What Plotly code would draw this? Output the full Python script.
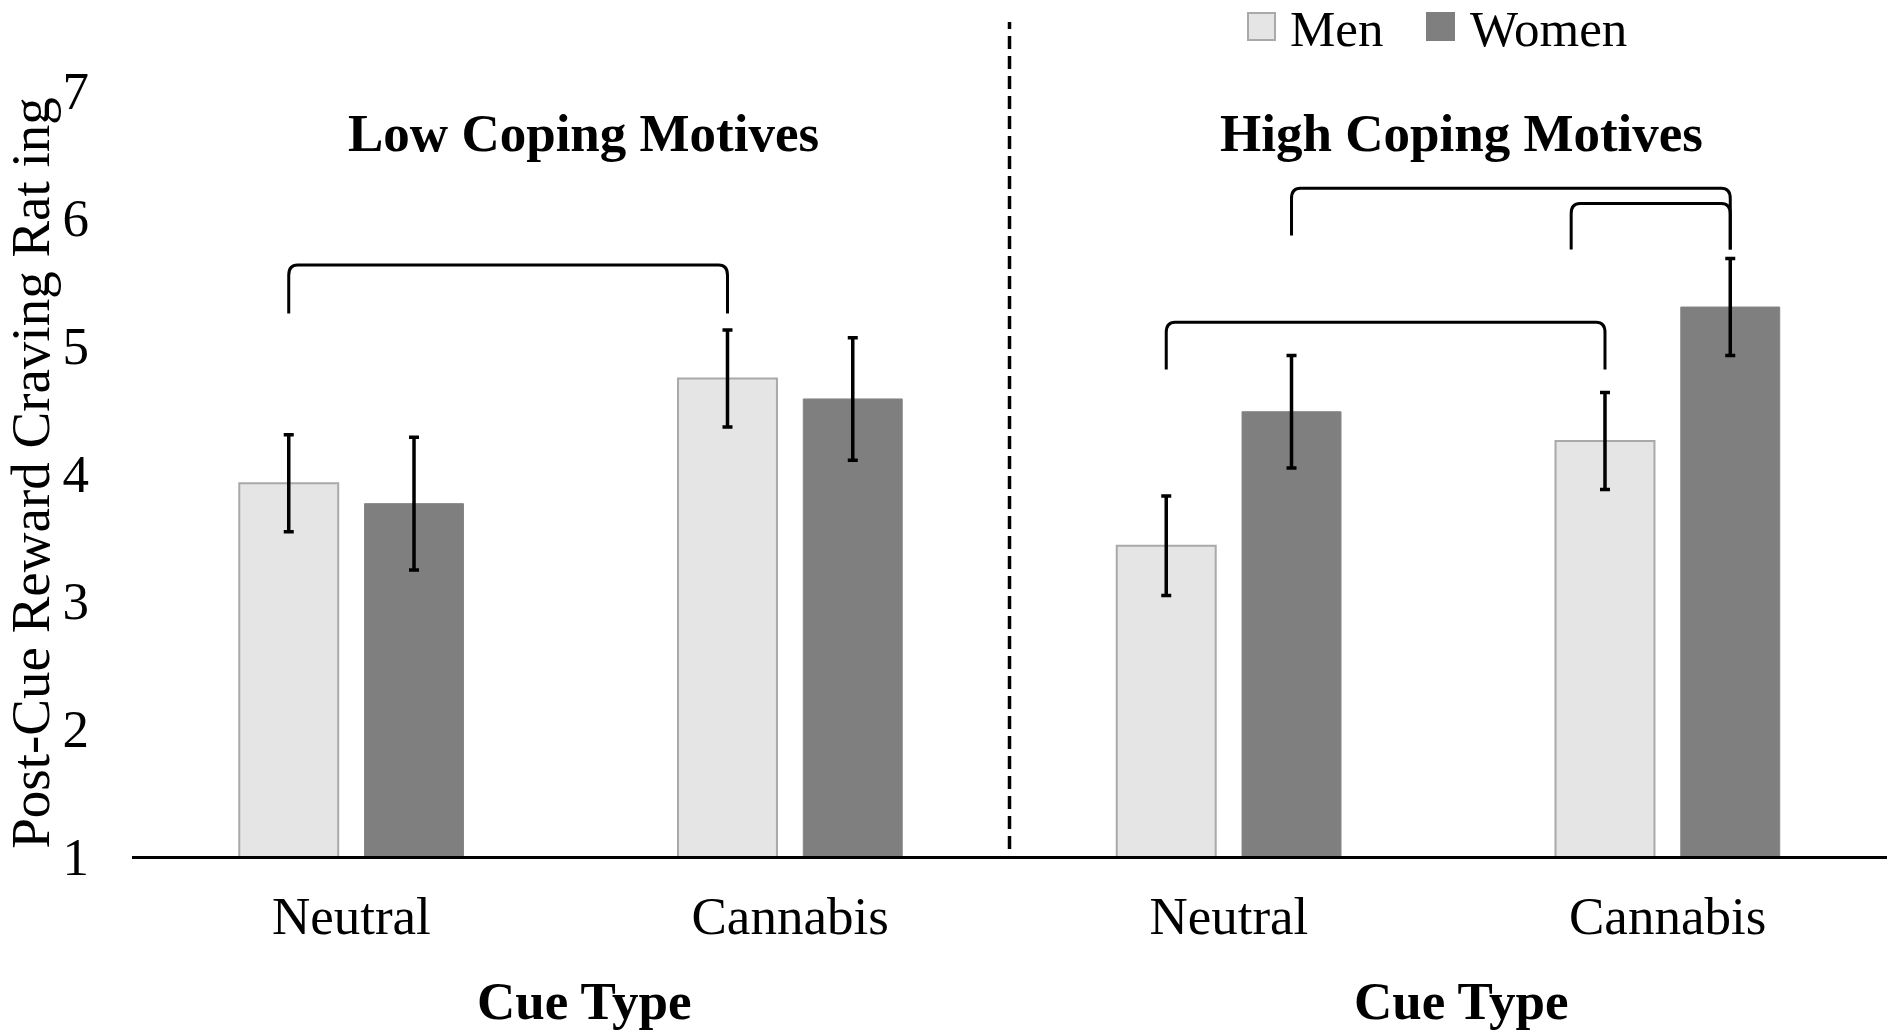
import plotly.graph_objects as go

# ---------------- data ----------------
motive_levels = ["Low Coping Motives", "High Coping Motives"]
cue_types = ["Neutral", "Cannabis"]
x_labels = cue_types * len(motive_levels)          # tick labels
x_pos = list(range(len(x_labels)))                 # 0..3

series_names = ["Men", "Women"]
men_means = [3.92, 4.74, 3.43, 4.25]
women_means = [3.76, 4.58, 4.48, 5.30]
men_se = [0.38, 0.38, 0.39, 0.38]
women_se = [0.52, 0.48, 0.44, 0.38]

y_ticks = [1, 2, 3, 4, 5, 6, 7]
y_title = "Post-Cue Reward Craving Rat ing"
x_title = "Cue Type"

# significance brackets: (x_start, x_end, y_top, y_leg_left, y_leg_right)
# x expressed as (category index, series index)
brackets = [
    ((0, 0), (1, 0), 5.63, 5.25, 5.25),
    ((2, 0), (3, 0), 5.18, 4.81, 4.81),
    ((2, 1), (3, 1), 6.23, 5.86, 5.75),
    ((3, -0.27), (3, 1), 6.11, 5.75, 5.75),
]

# ---------------- style ----------------
FONT = "Liberation Serif, Times New Roman, serif"
FS = 53
LEG_FS = 51
W, H = 1887, 1031
# plot area in page pixels: x 132..1887, y 90..856
PL, PR, PT, PB = 132, 1887, 90, 856
ML, MR, MT, MB = PL, W - PR, PT, H - PB
BARGAP, GROUPGAP = 0.429, 0.21
men_fill, men_line = "#e5e5e5", "#a9a9a9"
women_fill = "#7f7f7f"

fig = go.Figure()
fig.add_trace(go.Bar(
    x=x_pos, y=men_means, name=series_names[0],
    marker=dict(color=men_fill, line=dict(color=men_line, width=2)),
    error_y=dict(type="data", array=men_se, color="black", thickness=3.5, width=5),
    showlegend=False,
))
fig.add_trace(go.Bar(
    x=x_pos, y=women_means, name=series_names[1],
    marker=dict(color=women_fill, line=dict(color="#858585", width=1)),
    error_y=dict(type="data", array=women_se, color="black", thickness=3.5, width=5),
    showlegend=False,
))

# offset of series centre within category (barmode group, 2 series)
slot = (1 - BARGAP) / len(series_names)


def sx(cat, s):
    # s = 0 -> Men, 1 -> Women; fractional allowed
    return cat - slot / 2 + s * slot


shapes = []
for (a, b, yt, yl, yr) in brackets:
    x0, x1 = sx(*a), sx(*b)
    rx, ry = 0.02, 0.08
    path = (f"M {x0},{yl} L {x0},{yt - ry} Q {x0},{yt} {x0 + rx},{yt} "
            f"L {x1 - rx},{yt} Q {x1},{yt} {x1},{yt - ry} L {x1},{yr}")
    shapes.append(dict(type="path", path=path, xref="x", yref="y",
                       line=dict(color="black", width=3)))

plot_w = PR - PL
plot_h = PB - PT


def px2paper_x(p):
    return (p - PL) / plot_w


def px2paper_y(p):
    return (PB - p) / plot_h


# dashed separator between the two motive groups
sep_x = (len(cue_types) - 1 + len(cue_types)) / 2.0
shapes.append(dict(type="line", xref="x", yref="paper", x0=sep_x, x1=sep_x,
                   y0=px2paper_y(849), y1=px2paper_y(22),
                   line=dict(color="black", width=3.5, dash="13px,7px")))

# custom legend squares
leg_items = [(series_names[0], men_fill, men_line, 1248, 1288),
             (series_names[1], women_fill, women_fill, 1427, 1468)]
annotations = []
for name, fill, edge, sqx, tx in leg_items:
    shapes.append(dict(type="rect", xref="paper", yref="paper",
                       x0=px2paper_x(sqx), x1=px2paper_x(sqx + 27),
                       y0=px2paper_y(40), y1=px2paper_y(13),
                       fillcolor=fill, line=dict(color=edge, width=2)))
    annotations.append(dict(text=name, xref="paper", yref="paper",
                            x=px2paper_x(tx), y=px2paper_y(29),
                            xanchor="left", yanchor="middle", showarrow=False,
                            font=dict(family=FONT, size=LEG_FS, color="black")))

# group titles
for i, m in enumerate(motive_levels):
    centre = i * len(cue_types) + (len(cue_types) - 1) / 2.0
    annotations.append(dict(text=f"<b>{m}</b>", xref="x", yref="y",
                            x=centre + 0.03, y=6.66, xanchor="center",
                            yanchor="middle", showarrow=False,
                            font=dict(family=FONT, size=FS, color="black")))
    annotations.append(dict(text=f"<b>{x_title}</b>", xref="x", yref="paper",
                            x=centre + 0.03, y=px2paper_y(1001),
                            xanchor="center", yanchor="middle", showarrow=False,
                            font=dict(family=FONT, size=FS, color="black")))

fig.update_layout(
    width=W, height=H,
    margin=dict(l=ML, r=MR, t=MT, b=MB, autoexpand=False),
    paper_bgcolor="white", plot_bgcolor="white",
    barmode="group", bargap=BARGAP, bargroupgap=GROUPGAP,
    font=dict(family=FONT, size=FS, color="black"),
    shapes=shapes, annotations=annotations,
    showlegend=False,
)
fig.update_xaxes(
    range=[-0.5, len(x_pos) - 0.5],
    tickmode="array", tickvals=x_pos, ticktext=x_labels,
    showline=True, linecolor="black", linewidth=2.5,
    showgrid=False, zeroline=False, ticks="",
    ticklabelstandoff=12,
    tickfont=dict(family=FONT, size=FS, color="black"),
)
fig.update_yaxes(
    range=[y_ticks[0], y_ticks[-1]],
    tickmode="array", tickvals=y_ticks,
    showline=False, showgrid=False, zeroline=False, ticks="",
    ticklabelstandoff=42,
    tickfont=dict(family=FONT, size=FS, color="black"),
    title=dict(text=y_title, font=dict(family=FONT, size=55, color="black"),
               standoff=14),
)

# remove the default 8px page margin so the figure fills the window exactly
fig.write_html("out.html",
               config={"displayModeBar": False},
               post_script="document.body.style.margin='0px';"
                           "document.body.style.overflow='hidden';")
